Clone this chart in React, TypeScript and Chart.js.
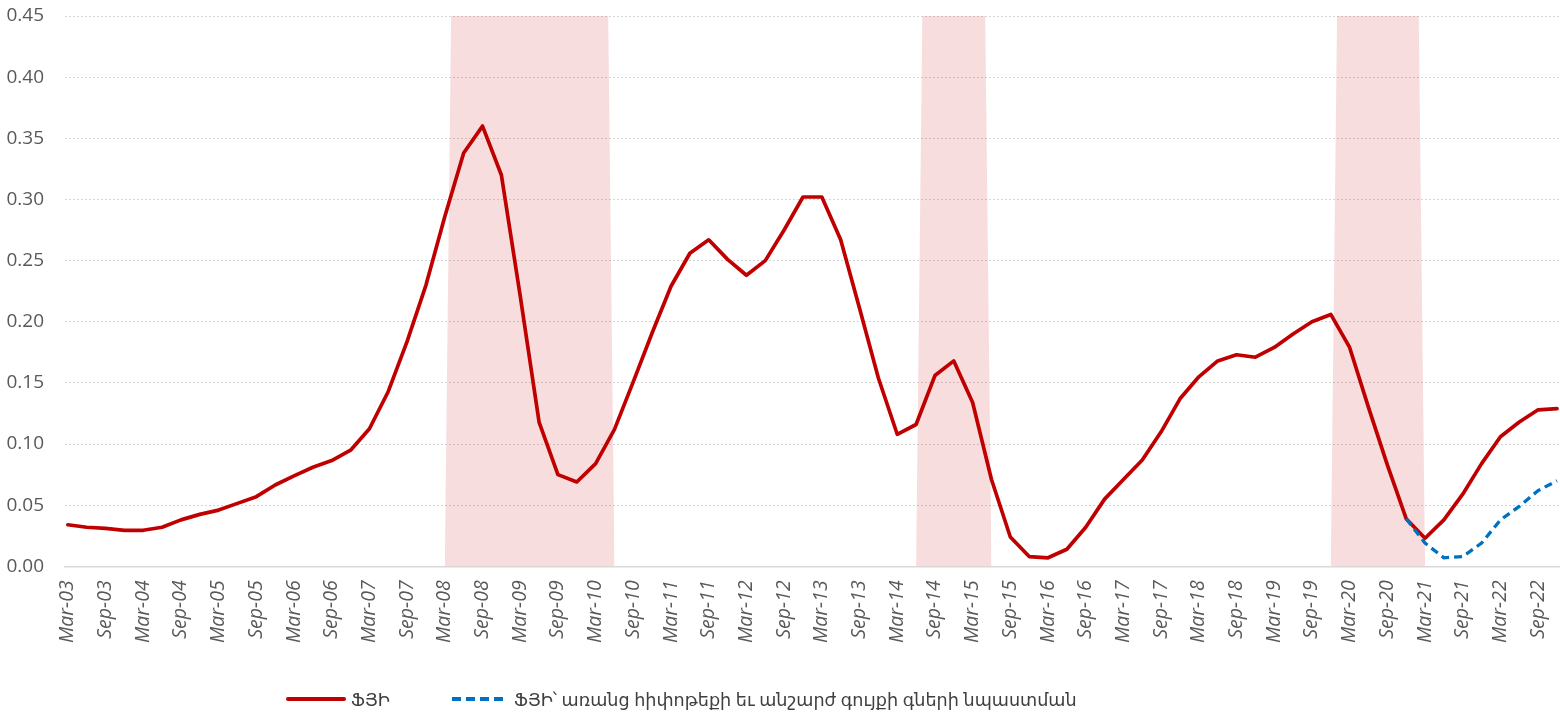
import React, { useEffect, useRef } from 'react';
import { Chart, registerables } from 'chart.js';

Chart.register(...registerables);

// Tick labels (every second quarter, first at index 0)
const tickLabels = [
  'Mar-03', 'Sep-03', 'Mar-04', 'Sep-04', 'Mar-05', 'Sep-05', 'Mar-06', 'Sep-06',
  'Mar-07', 'Sep-07', 'Mar-08', 'Sep-08', 'Mar-09', 'Sep-09', 'Mar-10', 'Sep-10',
  'Mar-11', 'Sep-11', 'Mar-12', 'Sep-12', 'Mar-13', 'Sep-13', 'Mar-14', 'Sep-14',
  'Mar-15', 'Sep-15', 'Mar-16', 'Sep-16', 'Mar-17', 'Sep-17', 'Mar-18', 'Sep-18',
  'Mar-19', 'Sep-19', 'Mar-20', 'Sep-20', 'Mar-21', 'Sep-21', 'Mar-22', 'Sep-22',
];

// ՖՅԻ, quarterly Mar-03 .. Dec-22 (80 quarters)
const fsiValues = [
  0.034, 0.032, 0.031, 0.0295, 0.0295, 0.032, 0.038, 0.0425, 0.046, 0.0515,
  0.057, 0.0665, 0.074, 0.081, 0.0865, 0.095, 0.1125, 0.143, 0.184, 0.230,
  0.286, 0.338, 0.360, 0.320, 0.221, 0.118, 0.075, 0.069, 0.084, 0.112,
  0.151, 0.191, 0.229, 0.256, 0.267, 0.251, 0.238, 0.250, 0.275, 0.302,
  0.302, 0.267, 0.211, 0.154, 0.108, 0.116, 0.156, 0.168, 0.134, 0.071,
  0.024, 0.008, 0.007, 0.014, 0.032, 0.055, 0.071, 0.087, 0.110, 0.137,
  0.155, 0.168, 0.173, 0.171, 0.179, 0.190, 0.200, 0.206, 0.179, 0.130,
  0.083, 0.039, 0.023, 0.038, 0.059, 0.084, 0.106, 0.118, 0.128, 0.129,
];

// ՖՅԻ without mortgage and real estate contribution (from Dec-20)
const fsiExclStartIndex = 71;
const fsiExclValues = [0.039, 0.019, 0.007, 0.008, 0.019, 0.038, 0.049, 0.062, 0.070];

// Shaded stress periods, quarter indices (start, end)
const bandStart = [20, 45, 67];
const bandEnd = [29, 49, 72];

const Y_MIN = 0;
const Y_MAX = 0.45;
const Y_STEP = 0.05;

const seriesNames = ['ՖՅԻ', 'ՖՅԻ՝ առանց հիփոթեքի եւ անշարժ գույքի գների նպաստման'];

const RED = '#C00000';
const BLUE = '#0070C0';
const BAND = 'rgba(205, 45, 45, 0.16)';
const RAMP = 1 / 3; // one month slope of the shaded areas

export default function App() {
  const canvasRef = useRef<HTMLCanvasElement | null>(null);

  useEffect(() => {
    document.body.style.margin = '0';
    const canvas = canvasRef.current;
    if (!canvas) return;

    const bandDatasets = bandStart.map((s, k) => ({
      type: 'line' as const,
      label: 'band' + k,
      data: [
        { x: s, y: Y_MIN },
        { x: s + RAMP, y: Y_MAX },
        { x: bandEnd[k] - RAMP, y: Y_MAX },
        { x: bandEnd[k], y: Y_MIN },
      ],
      borderWidth: 0,
      borderColor: 'rgba(0,0,0,0)',
      backgroundColor: BAND,
      fill: 'origin',
      pointRadius: 0,
      tension: 0,
      order: 3,
    }));

    const chart = new Chart(canvas, {
      type: 'line',
      data: {
        datasets: [
          {
            label: seriesNames[1],
            data: fsiExclValues.map((v, k) => ({ x: fsiExclStartIndex + k, y: v })),
            borderColor: BLUE,
            borderWidth: 3.3,
            borderDash: [8, 5],
            pointRadius: 0,
            tension: 0,
            fill: false,
            order: 0,
          },
          {
            label: seriesNames[0],
            data: fsiValues.map((v, i) => ({ x: i, y: v })),
            borderColor: RED,
            borderWidth: 3.7,
            borderJoinStyle: 'round',
            borderCapStyle: 'round',
            pointRadius: 0,
            tension: 0,
            fill: false,
            order: 1,
          },
          ...bandDatasets,
        ],
      },
      options: {
        responsive: false,
        animation: false,
        maintainAspectRatio: false,
        layout: { padding: { left: 6, top: 16, right: 0, bottom: 56 } },
        plugins: {
          legend: { display: false },
          tooltip: { enabled: false },
        },
        scales: {
          x: {
            type: 'linear',
            min: -0.15,
            max: 79.16,
            grid: { display: false, drawTicks: false },
            border: { display: true, color: '#D9D9D9', width: 1.5 },
            afterBuildTicks: (scale: any) => {
              scale.ticks = tickLabels.map((_, k) => ({ value: k * 2 }));
            },
            afterFit: (scale: any) => {
              scale.paddingLeft = 0;
              scale.paddingRight = 0;
            },
            ticks: {
              autoSkip: false,
              maxRotation: 90,
              minRotation: 90,
              padding: 14,
              color: '#595959',
              font: { family: 'Open Sans', size: 19.5, style: 'italic' },
              callback: (v: any) => tickLabels[Math.round(Number(v) / 2)] ?? '',
            },
          },
          y: {
            min: Y_MIN,
            max: Y_MAX,
            grid: { color: '#D4D4D4', lineWidth: 1, drawTicks: false },
            border: { display: false, dash: [2, 2] },
            afterFit: (scale: any) => {
              scale.width = 59;
              scale.paddingTop = 0;
              scale.paddingBottom = 0;
            },
            ticks: {
              stepSize: Y_STEP,
              padding: 21,
              color: '#595959',
              font: { family: 'Open Sans', size: 19 },
              callback: (v: any) => Number(v).toFixed(2),
            },
          },
        },
      },
    });

    return () => chart.destroy();
  }, []);

  const legendText: React.CSSProperties = {
    position: 'absolute',
    top: 686,
    fontFamily: "'Noto Sans', 'DejaVu Sans', sans-serif",
    fontSize: 17.6,
    color: '#404040',
    whiteSpace: 'nowrap',
    lineHeight: '26px',
  };

  return (
    <div style={{ position: 'relative', width: 1560, height: 713, background: '#fff' }}>
      <canvas ref={canvasRef} width={1560} height={713} style={{ display: 'block' }} />
      <svg style={{ position: 'absolute', left: 286, top: 695 }} width={60} height={8}>
        <line x1={2} y1={4} x2={58} y2={4} stroke={RED} strokeWidth={4} strokeLinecap="round" />
      </svg>
      <div style={{ ...legendText, left: 351 }}>{seriesNames[0]}</div>
      <svg style={{ position: 'absolute', left: 450, top: 695 }} width={60} height={8}>
        <line x1={2} y1={4} x2={58} y2={4} stroke={BLUE} strokeWidth={4} strokeDasharray="9 5" />
      </svg>
      <div style={{ ...legendText, left: 514 }}>{seriesNames[1]}</div>
    </div>
  );
}
